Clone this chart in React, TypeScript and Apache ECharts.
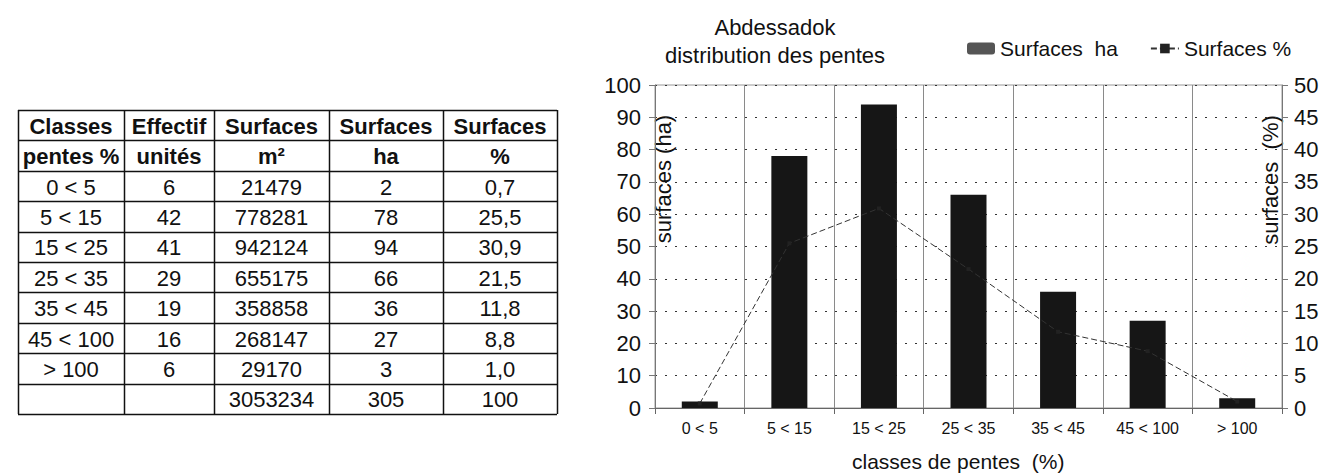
import React, { useEffect, useRef } from 'react';
import * as echarts from 'echarts';

const classes = ['0 < 5', '5 < 15', '15 < 25', '25 < 35', '35 < 45', '45 < 100', '> 100'];
const effectif = [6, 42, 41, 29, 19, 16, 6];
const surfacesM2 = [21479, 778281, 942124, 655175, 358858, 268147, 29170];
const surfacesHa = [2, 78, 94, 66, 36, 27, 3];
const surfacesPct = [0.7, 25.5, 30.9, 21.5, 11.8, 8.8, 1.0];
const headerRow1 = ['Classes', 'Effectif', 'Surfaces', 'Surfaces', 'Surfaces'];
const headerRow2 = ['pentes %', 'unités', 'm²', 'ha', '%'];
const totalRow = ['', '', '3053234', '305', '100'];
const titleLines = ['Abdessadok', 'distribution des pentes'];
const seriesNames = ['Surfaces  ha', 'Surfaces %'];
const axisNames = ['surfaces (ha)', 'surfaces  (%)', 'classes de pentes  (%)'];

const FONT = "'Liberation Sans', Arial, Helvetica, sans-serif";

function fmtPct(v: number) {
  return v.toFixed(1).replace('.', ',');
}

function buildTable() {
  const colX = [18, 124, 214, 329, 443, 557];
  const top = 110;
  const rowH = 30.4;
  const rows: { cells: string[]; bold: boolean }[] = [];
  rows.push({ cells: headerRow1, bold: true });
  rows.push({ cells: headerRow2, bold: true });
  classes.forEach((c, i) => {
    rows.push({
      cells: [c, String(effectif[i]), String(surfacesM2[i]), String(surfacesHa[i]), fmtPct(surfacesPct[i])],
      bold: false,
    });
  });
  rows.push({ cells: totalRow, bold: false });
  const els: any[] = [];
  const bottom = top + rowH * rows.length;
  for (let r = 0; r <= rows.length; r++) {
    const y = Math.round(top + rowH * r) + 0.5;
    els.push({
      type: 'line',
      shape: { x1: colX[0], y1: y, x2: colX[colX.length - 1], y2: y },
      style: { stroke: '#111', lineWidth: 1.5 },
    });
  }
  colX.forEach((x) => {
    els.push({
      type: 'line',
      shape: { x1: x + 0.5, y1: top, x2: x + 0.5, y2: bottom },
      style: { stroke: '#111', lineWidth: 1.5 },
    });
  });
  rows.forEach((row, r) => {
    row.cells.forEach((t, c) => {
      if (!t) return;
      els.push({
        type: 'text',
        x: (colX[c] + colX[c + 1]) / 2,
        y: top + rowH * r + rowH / 2 + 1,
        style: {
          text: t,
          fill: '#111',
          fontSize: 22,
          fontWeight: row.bold ? 'bold' : 'normal',
          fontFamily: FONT,
          align: 'center',
          verticalAlign: 'middle',
        },
      });
    });
  });
  return els;
}

export default function App() {
  const ref = useRef<HTMLDivElement>(null);
  useEffect(() => {
    if (!ref.current) return;
    const chart = echarts.init(ref.current, null, { renderer: 'svg' });
    const option: any = {
      animation: false,
      backgroundColor: '#ffffff',
      textStyle: { fontFamily: FONT },
      legend: {
        left: 962,
        top: 33,
        itemWidth: 28,
        itemHeight: 12,
        itemGap: 32,
        textStyle: { fontSize: 21, color: '#111', fontFamily: FONT },
        data: [
          { name: seriesNames[0], itemStyle: { color: '#555' } },
          { name: seriesNames[1] },
        ],
      },
      grid: {
        left: 655,
        right: 46,
        top: 85,
        bottom: 67,
        show: true,
        borderColor: '#999',
        borderWidth: 1,
      },
      xAxis: {
        type: 'category',
        data: classes,
        axisLine: { lineStyle: { color: '#666' } },
        axisTick: { show: true, interval: 0, length: 6, lineStyle: { color: '#666' } },
        axisLabel: { interval: 0, fontSize: 16, color: '#111', margin: 12, fontFamily: FONT },
        splitLine: { show: true, interval: 0, lineStyle: { color: '#8a8a8a', width: 1 } },
      },
      yAxis: [
        {
          type: 'value',
          min: 0,
          max: 100,
          interval: 10,
          axisLine: { show: true, lineStyle: { color: '#777' } },
          axisTick: { show: true, length: 6, lineStyle: { color: '#777' } },
          axisLabel: { fontSize: 22, color: '#111', margin: 14, fontFamily: FONT },
          splitLine: { show: true, lineStyle: { color: '#333', width: 1, type: [2, 8] } },
        },
        {
          type: 'value',
          min: 0,
          max: 50,
          interval: 5,
          position: 'right',
          axisLine: { show: true, lineStyle: { color: '#777' } },
          axisTick: { show: true, length: 6, lineStyle: { color: '#777' } },
          axisLabel: { fontSize: 22, color: '#111', margin: 12, fontFamily: FONT },
          splitLine: { show: false },
        },
      ],
      series: [
        {
          name: seriesNames[0],
          type: 'bar',
          yAxisIndex: 0,
          data: surfacesHa,
          barWidth: 36,
          itemStyle: { color: '#161616' },
        },
        {
          name: seriesNames[1],
          type: 'line',
          yAxisIndex: 1,
          data: surfacesPct,
          symbol: 'rect',
          symbolSize: 4,
          itemStyle: { color: '#222' },
          lineStyle: { color: '#333', width: 1, type: [6, 3] },
        },
      ],
      graphic: [
        ...buildTable(),
        {
          type: 'text',
          x: 775,
          y: 27,
          style: { text: titleLines[0], fontSize: 22, fill: '#111', fontFamily: FONT, align: 'center', verticalAlign: 'middle' },
        },
        {
          type: 'text',
          x: 775,
          y: 55,
          style: { text: titleLines[1], fontSize: 22, fill: '#111', fontFamily: FONT, align: 'center', verticalAlign: 'middle' },
        },
        {
          type: 'text',
          x: 663,
          y: 179,
          rotation: Math.PI / 2,
          style: { text: axisNames[0], fontSize: 22, fill: '#111', fontFamily: FONT, align: 'center', verticalAlign: 'middle' },
        },
        {
          type: 'text',
          x: 1270,
          y: 180,
          rotation: Math.PI / 2,
          style: { text: axisNames[1], fontSize: 22, fill: '#111', fontFamily: FONT, align: 'center', verticalAlign: 'middle' },
        },
        {
          type: 'text',
          x: 852,
          y: 461,
          style: { text: axisNames[2], fontSize: 21, fill: '#111', fontFamily: FONT, align: 'left', verticalAlign: 'middle' },
        },
      ],
    };
    chart.setOption(option);
    return () => chart.dispose();
  }, []);
  return <div ref={ref} style={{ position: 'absolute', left: 0, top: 0, width: 1328, height: 475 }} />;
}
